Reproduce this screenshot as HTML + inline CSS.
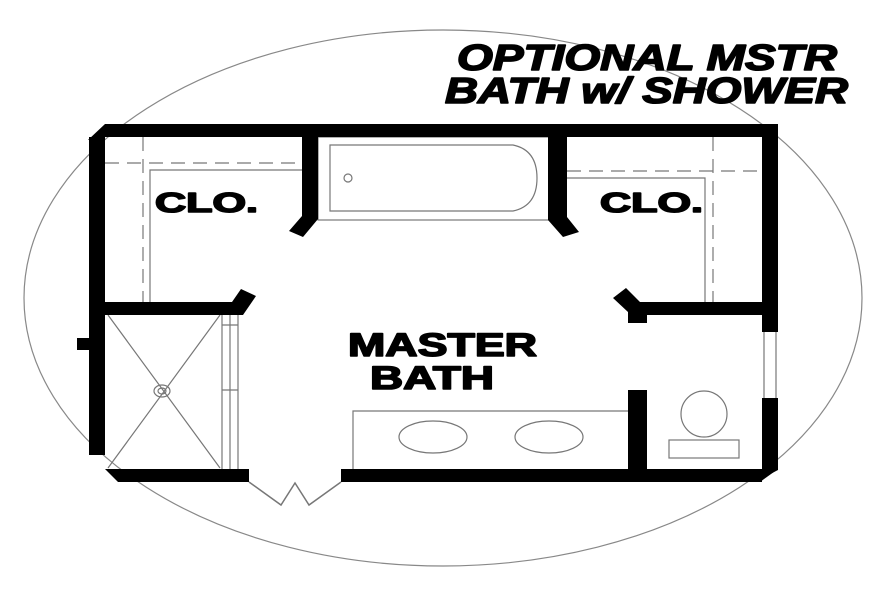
<!DOCTYPE html>
<html><head><style>html,body{margin:0;padding:0;background:#fff;width:891px;height:593px;overflow:hidden}</style></head>
<body>
<svg width="891" height="593" viewBox="0 0 891 593" xmlns="http://www.w3.org/2000/svg">
<rect width="891" height="593" fill="#fff"/>
<ellipse cx="443" cy="298" rx="419" ry="268" fill="none" stroke="#888" stroke-width="1.2"/>
<g font-family="Liberation Sans, sans-serif" font-weight="bold" fill="#000" stroke="#000" stroke-width="1.6" stroke-linejoin="round">
<text x="457" y="70" font-size="36" font-style="italic" textLength="380" lengthAdjust="spacingAndGlyphs">OPTIONAL MSTR</text>
<text x="445" y="103" font-size="36" font-style="italic" textLength="403" lengthAdjust="spacingAndGlyphs">BATH w/ SHOWER</text>
<text x="155" y="212" font-size="28" textLength="103" lengthAdjust="spacingAndGlyphs">CLO.</text>
<text x="600" y="212" font-size="28" textLength="103" lengthAdjust="spacingAndGlyphs">CLO.</text>
<text x="348" y="356" font-size="32" textLength="189" lengthAdjust="spacingAndGlyphs">MASTER</text>
<text x="370" y="389" font-size="32" textLength="124" lengthAdjust="spacingAndGlyphs">BATH</text>
</g>
<g fill="none" stroke="#777" stroke-width="1.2">
<path d="M105 163 H302" stroke-dasharray="14 8"/>
<path d="M143 137 V303" stroke-dasharray="14 8"/>
<path d="M150 303 V170 H302"/>
<path d="M567 171 H762" stroke-dasharray="14 8"/>
<path d="M713 137 V303" stroke-dasharray="14 8"/>
<path d="M567 178 H705 V303"/>
<rect x="318" y="137" width="232" height="83"/>
<path d="M330 145 H513 Q537 150 537 178 Q537 206 513 211 H330 Z"/>
<circle cx="348" cy="178" r="4"/>
<path d="M108 315 L220 468 M220 315 L108 468"/>
<ellipse cx="162" cy="391" rx="8" ry="6"/>
<ellipse cx="162" cy="391" rx="4" ry="3"/>
<path d="M222 315 V470 M230 315 V470 M238 315 V470 M222 325 H238 M222 390 H238"/>
<path d="M353 470 V411 H628"/>
<ellipse cx="433" cy="437" rx="34" ry="16"/>
<ellipse cx="549" cy="437" rx="34" ry="16"/>
<circle cx="704" cy="414" r="23"/>
<rect x="669" y="440" width="70" height="18"/>
<path d="M249 482 L281 505 L295 483 L309 505 L341 482" stroke-width="1.5"/>
<path d="M764 332 V398 M776 332 V398"/>
</g>
<g fill="#000">
<path d="M105 124 H778 V137 H105 Z"/>
<path d="M88 140 L105 124 V140 Z"/>
<rect x="89" y="137" width="16" height="318"/>
<rect x="77" y="338" width="14" height="12"/>
<rect x="762" y="124" width="16" height="208"/>
<rect x="762" y="398" width="16" height="72"/>
<path d="M762 470 H778 L755 482 H762 Z"/>
<path d="M105 469 H249 V482 H118 Z"/>
<rect x="341" y="469" width="421" height="13"/>
<path d="M740 469 H778 L760 482 H740 Z"/>
<path d="M302 137 H318 V219 L303 237 L289 231 L302 216 Z"/>
<path d="M548 137 H567 V217 L579 232 L563 237 L548 220 Z"/>
<path d="M105 302 H232 L241 289 L256 296 L243 315 H105 Z"/>
<path d="M640 302 H762 V315 H647 V323 H628 V312 L613 298 L626 288 Z"/>
<rect x="628" y="390" width="19" height="80"/>
</g>
</svg>
</body></html>
